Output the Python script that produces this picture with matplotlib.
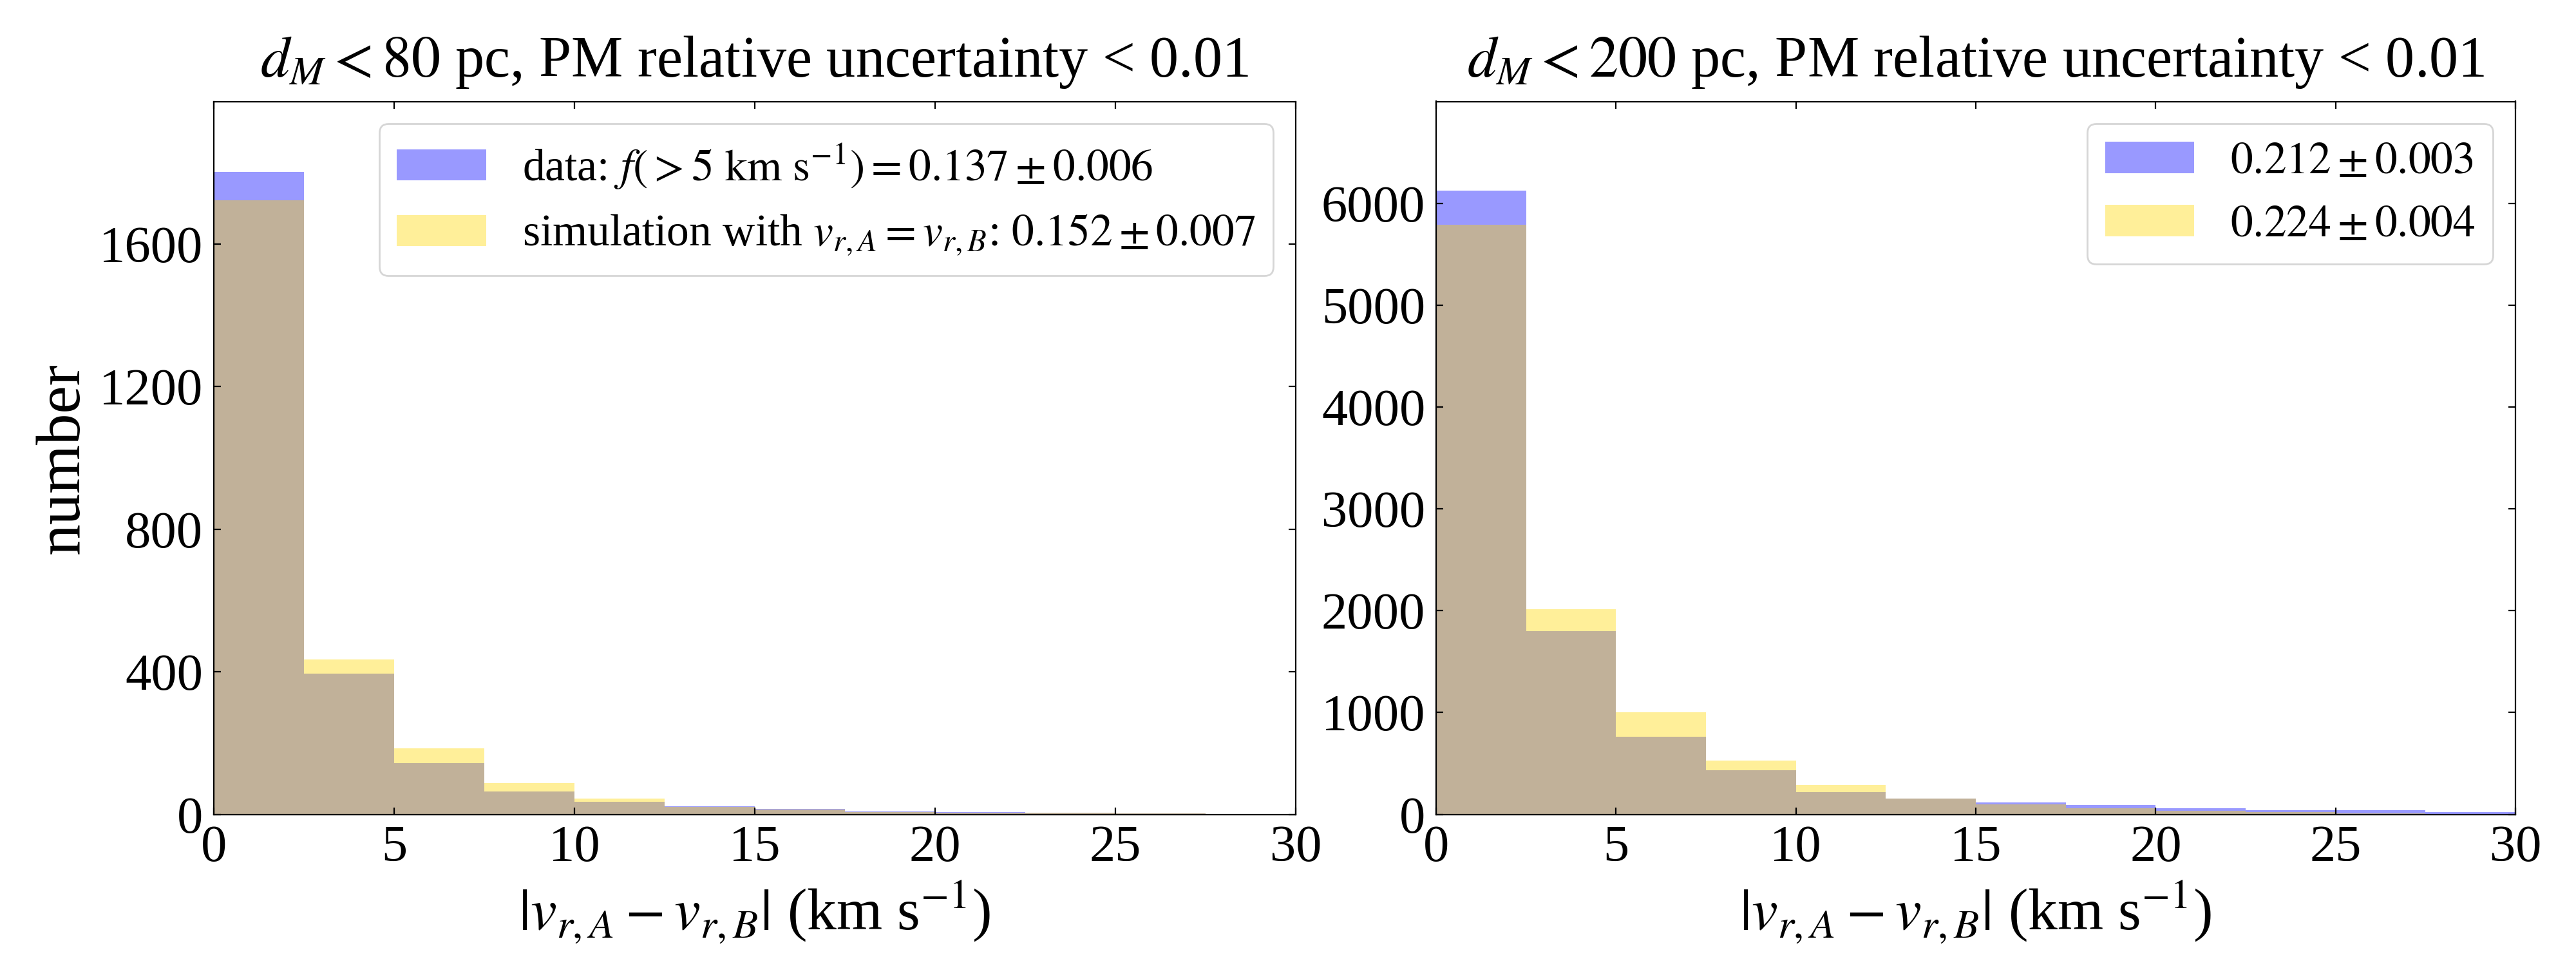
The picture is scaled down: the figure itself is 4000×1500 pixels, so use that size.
import numpy as np
import matplotlib
matplotlib.use('Agg')
import matplotlib.pyplot as plt

plt.rcParams['font.family'] = ['Liberation Serif', 'DejaVu Serif']
plt.rcParams['mathtext.fontset'] = 'stix'
plt.rcParams['xtick.direction'] = 'in'
plt.rcParams['ytick.direction'] = 'in'
plt.rcParams['xtick.top'] = True
plt.rcParams['ytick.right'] = True

# bin edges in km/s
bin_edges = [0, 2.5, 5, 7.5, 10, 12.5, 15, 17.5, 20, 22.5, 25, 27.5, 30]

# d_M < 80 pc
data_80 = [1802, 395, 144, 65, 36, 23, 16, 9, 7, 4, 3, 0]
sim_80 = [1722, 435, 186, 87, 44, 21, 13, 7, 5, 4, 3, 0]

# d_M < 200 pc
data_200 = [6124, 1797, 760, 430, 217, 158, 114, 89, 57, 44, 38, 19]
sim_200 = [5790, 2013, 1000, 525, 285, 155, 95, 57, 36, 25, 10, 2]

titles = [r'$d_M < 80$ pc, PM relative uncertainty < 0.01',
          r'$d_M < 200$ pc, PM relative uncertainty < 0.01']
labels_80 = [r'data: $f(>5\ \mathrm{km\ s^{-1}}) = 0.137 \pm 0.006$',
             r'simulation with $v_{r,A} = v_{r,B}$: $0.152 \pm 0.007$']
labels_200 = [r'$0.212 \pm 0.003$', r'$0.224 \pm 0.004$']
yticks_80 = [0, 400, 800, 1200, 1600]
yticks_200 = [0, 1000, 2000, 3000, 4000, 5000, 6000]

fig = plt.figure(figsize=(20, 7.5), dpi=200)
ax1 = fig.add_axes([0.083, 0.157, 0.420, 0.738])
ax2 = fig.add_axes([0.5575, 0.157, 0.419, 0.738])

edges = np.array(bin_edges)
centers = 0.5 * (edges[:-1] + edges[1:])

panels = [(ax1, data_80, sim_80, labels_80, yticks_80, 2000),
          (ax2, data_200, sim_200, labels_200, yticks_200, 7000)]

for i, (ax, d, s, labs, yt, ytop) in enumerate(panels):
    ax.hist(centers, bins=edges, weights=d, color='blue', alpha=0.4, label=labs[0])
    ax.hist(centers, bins=edges, weights=s, color='gold', alpha=0.4, label=labs[1])
    ax.set_xlim(0, 30)
    ax.set_ylim(0, ytop)
    ax.set_xticks([0, 5, 10, 15, 20, 25, 30])
    ax.set_yticks(yt)
    ax.tick_params(labelsize=29, length=4, pad=6)
    ax.set_title(titles[i], fontsize=32.5, pad=14)
    ax.set_xlabel(r'$|v_{r,A} - v_{r,B}|$ (km s$^{-1}$)', fontsize=33)
    ax.legend(loc='upper right', fontsize=25)

ax1.set_ylabel('number', fontsize=35)

plt.savefig('out.png', dpi=200)
